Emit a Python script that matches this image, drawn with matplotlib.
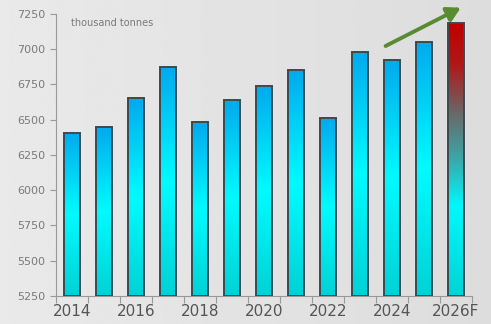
import numpy as np
import matplotlib.pyplot as plt
from matplotlib.colors import LinearSegmentedColormap

# annual output, thousand tonnes
years = ['2014', '2015', '2016', '2017', '2018', '2019', '2020',
         '2021', '2022', '2023', '2024', '2025', '2026F']
values = [6405, 6448, 6651, 6871, 6481, 6639, 6739,
          6852, 6511, 6980, 6921, 7054, 7184]
shown_labels = ['2014', '2016', '2018', '2020', '2022', '2024', '2026F']
y_ticks = [5250, 5500, 5750, 6000, 6250, 6500, 6750, 7000, 7250]

# trend arrow (data coordinates: bar index, value)
arrow_start = (9.8, 7023)
arrow_end = (12.15, 7295)

blue_cmap = LinearSegmentedColormap.from_list(
    'blue_bar', [(0.0, '#00d2d6'), (0.5, '#00fbff'), (1.0, '#00aaee')])
red_cmap = LinearSegmentedColormap.from_list(
    'red_bar', [(0.0, '#00d4d6'), (0.33, '#00f8fc'), (0.5, '#3aa8aa'),
                (0.67, '#6a6868'), (0.85, '#b01818'), (1.0, '#c00000')])

fig = plt.figure(figsize=(4.91, 3.24), dpi=100)

# soft light-grey backdrop, a touch brighter on the left
bg = fig.add_axes([0, 0, 1, 1], zorder=-1)
shade = np.linspace(0.915, 0.865, 256).reshape(1, -1)
bg.imshow(shade, cmap='gray', vmin=0, vmax=1, aspect='auto', extent=[0, 1, 0, 1])
bg.axis('off')

ax = fig.add_axes([56 / 491, 28 / 324, 416 / 491, 282 / 324])
ax.patch.set_alpha(0)

x = np.arange(len(years))
bars = ax.bar(x, np.array(values) - 5250, bottom=5250, width=0.47,
              facecolor='none', edgecolor='#3c4a50', linewidth=1.4, zorder=3)

grad = np.linspace(0, 1, 256).reshape(-1, 1)
for i, (bar, v) in enumerate(zip(bars, values)):
    cmap = red_cmap if years[i].endswith('F') else blue_cmap
    x0 = bar.get_x()
    im = ax.imshow(grad, cmap=cmap, origin='lower', aspect='auto',
                   extent=[x0, x0 + bar.get_width(), 5250, v], zorder=2)
    im.set_clip_path(bar)

ax.set_xlim(-0.5, len(years) - 0.5)
ax.set_ylim(5250, 7250)

ax.set_yticks(y_ticks)
ax.tick_params(axis='y', colors='#999999', labelcolor='#7a7a7a',
               labelsize=8, length=4, width=0.8, pad=4)

# labels every other year, tick marks on the category boundaries
ax.set_xticks([years.index(s) for s in shown_labels])
ax.set_xticklabels(shown_labels)
ax.set_xticks(np.arange(-0.5, len(years)), minor=True)
ax.tick_params(axis='x', which='major', length=0, labelsize=11,
               labelcolor='#555555', pad=6)
ax.tick_params(axis='x', which='minor', length=5, width=0.8, colors='#999999')

for side in ['top', 'right']:
    ax.spines[side].set_visible(False)
for side in ['left', 'bottom']:
    ax.spines[side].set_color('#999999')
    ax.spines[side].set_linewidth(0.8)

ax.text(0.035, 0.985, 'thousand tonnes', transform=ax.transAxes,
        fontsize=7, color='#7a7a7a', va='top', ha='left')

ax.annotate('', xy=arrow_end, xytext=arrow_start, annotation_clip=False,
            arrowprops=dict(arrowstyle='-|>,head_length=0.8,head_width=0.45',
                            color='#5a8a32', lw=2.8, shrinkA=0, shrinkB=0))

fig.savefig('out.png', dpi=100)
